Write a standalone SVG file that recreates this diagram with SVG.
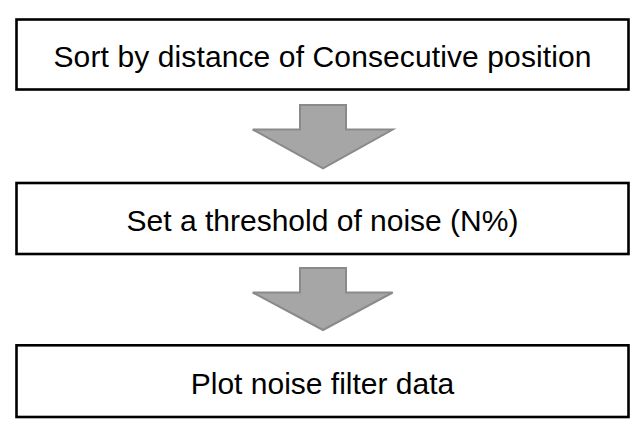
<svg xmlns="http://www.w3.org/2000/svg" width="644" height="434" viewBox="0 0 644 434">
<style>
.box{fill:#fff;stroke:#000;stroke-width:2.6}
.lbl{font-family:"Liberation Sans",Arial,sans-serif;font-size:30px;fill:#000;text-anchor:middle}
.arr{fill:#a6a6a6;stroke:#8a8a8a;stroke-width:2;stroke-linejoin:miter}
</style>
<rect width="644" height="434" fill="#fff"/>
<g id="connectors">
<polygon class="arr" points="300,105 346,105 346,129.5 392.7,129.5 323,168.3 252.7,129.5 300,129.5"/>
<polygon class="arr" points="300,268 346,268 346,292.5 392.7,292.5 323,330 252.7,292.5 300,292.5"/>
</g>
<g id="node1">
<rect class="box" x="16.5" y="19.5" width="612" height="70"/>
<text class="lbl" x="322.5" y="66.5" textLength="538" lengthAdjust="spacing">Sort by distance of Consecutive position</text>
</g>
<g id="node2">
<rect class="box" x="16.5" y="183" width="612" height="71"/>
<text class="lbl" x="322.5" y="231">Set a threshold of noise (N%)</text>
</g>
<g id="node3">
<rect class="box" x="16.5" y="345.3" width="612" height="71.7"/>
<text class="lbl" x="322.5" y="393.5">Plot noise filter data</text>
</g>
</svg>
